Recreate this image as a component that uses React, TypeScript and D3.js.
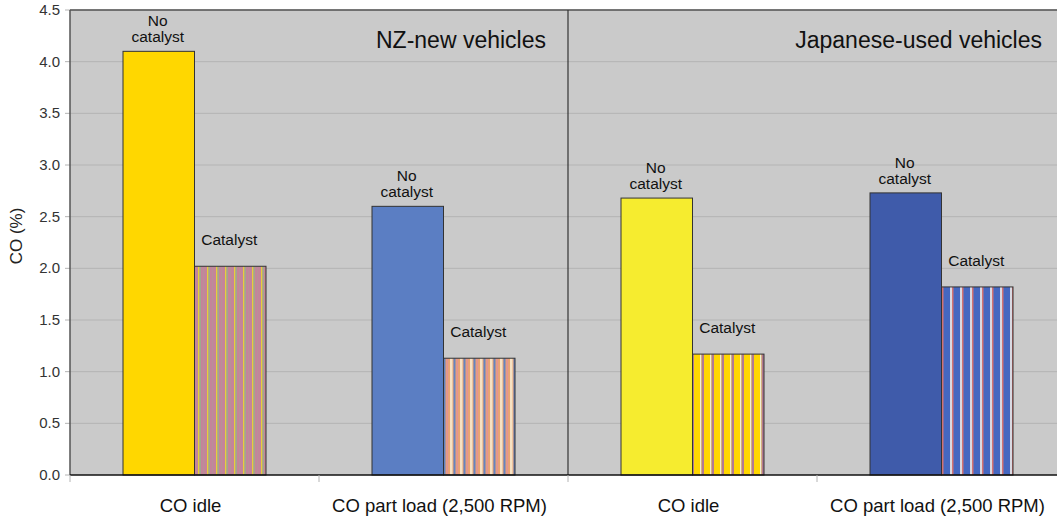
import React, { useEffect, useRef } from "react";
import * as d3 from "d3";

const groups = ["CO idle NZ", "CO part NZ", "CO idle JP", "CO part JP"];
const groupLabels = ["CO idle", "CO part load (2,500 RPM)", "CO idle", "CO part load (2,500 RPM)"];
const noCatalyst = [4.1, 2.6, 2.68, 2.73];
const withCatalyst = [2.02, 1.13, 1.17, 1.82];
const yTicks = [0, 0.5, 1, 1.5, 2, 2.5, 3, 3.5, 4, 4.5];
const panelTitles = ["NZ-new vehicles", "Japanese-used vehicles"];

const solidColors = ["#FFD700", "#5B7EC3", "#F6EC2F", "#3F5BAA"];
const font = "Liberation Sans, Arial, sans-serif";

export default function App() {
  const ref = useRef<SVGSVGElement>(null);

  useEffect(() => {
    const width = 1057, height = 521;
    const margin = { top: 10, left: 70, bottom: 46 };
    const plotRight = 1066;
    const svg = d3.select(ref.current);
    svg.selectAll("*").remove();

    const x = d3.scaleBand().domain(groups).range([margin.left, plotRight]).padding(0);
    const y = d3.scaleLinear().domain([0, 4.5]).range([height - margin.bottom, margin.top]);
    const barW = 71.5;

    const defs = svg.append("defs");
    const pats: { id: string; w: number; base: string; stripes: [number, number, string][] }[] = [
      { id: "p0", w: 9, base: "#C4849A", stripes: [[0, 1.5, "#E6CF3A"], [1.5, 1.5, "#9EA890"], [5, 1, "#B89098"]] },
      { id: "p1", w: 10, base: "#E9A374", stripes: [[0, 2.5, "#F6E2C4"], [3.5, 2, "#6484C2"], [6.5, 1.5, "#E39393"]] },
      { id: "p2", w: 10, base: "#FFD700", stripes: [[0, 1.5, "#F1EED2"], [1.5, 2.5, "#B27A92"]] },
      { id: "p3", w: 10, base: "#4567C0", stripes: [[0, 2, "#D9D9E2"], [2, 1.5, "#D27272"]] },
    ];
    pats.forEach((p) => {
      const pat = defs.append("pattern").attr("id", p.id).attr("patternUnits", "userSpaceOnUse")
        .attr("width", p.w).attr("height", 10);
      pat.append("rect").attr("width", p.w).attr("height", 10).attr("fill", p.base);
      p.stripes.forEach(([sx, sw, c]) => {
        pat.append("rect").attr("x", sx).attr("width", sw).attr("height", 10).attr("fill", c);
      });
    });

    svg.append("rect").attr("width", width).attr("height", height).attr("fill", "#fff");

    const g = svg.append("g");
    g.append("rect").attr("x", margin.left).attr("y", margin.top)
      .attr("width", plotRight - margin.left).attr("height", y(0) - margin.top).attr("fill", "#CACACA");

    g.selectAll(".grid").data(yTicks.slice(1)).enter().append("line")
      .attr("x1", margin.left).attr("x2", plotRight)
      .attr("y1", (d) => y(d)).attr("y2", (d) => y(d))
      .attr("stroke", "#B4B4B4").attr("stroke-width", 1);

    // y axis
    g.selectAll(".yt").data(yTicks).enter().append("line")
      .attr("x1", margin.left - 5).attr("x2", margin.left)
      .attr("y1", (d) => y(d)).attr("y2", (d) => y(d)).attr("stroke", "#B4B4B4");
    g.selectAll(".yl").data(yTicks).enter().append("text")
      .attr("x", margin.left - 10).attr("y", (d) => y(d) + 5)
      .attr("text-anchor", "end").attr("font-size", 15).attr("fill", "#333")
      .attr("font-family", font)
      .text((d) => d.toFixed(1));

    svg.append("text").attr("transform", `translate(22,236) rotate(-90)`)
      .attr("text-anchor", "middle").attr("font-size", 17).attr("fill", "#222")
      .attr("font-family", font).text("CO (%)");

    // bars
    groups.forEach((grp, i) => {
      const c = (x(grp) as number) + x.bandwidth() / 2;
      g.append("rect").attr("x", c - barW).attr("y", y(noCatalyst[i]))
        .attr("width", barW).attr("height", y(0) - y(noCatalyst[i]))
        .attr("fill", solidColors[i]).attr("stroke", "#333").attr("stroke-width", 1);
      g.append("rect").attr("x", c).attr("y", y(withCatalyst[i]))
        .attr("width", barW).attr("height", y(0) - y(withCatalyst[i]))
        .attr("fill", `url(#p${i})`).attr("stroke", "#333").attr("stroke-width", 1);

      const t1 = g.append("text").attr("text-anchor", "middle").attr("font-size", 15.5)
        .attr("fill", "#111").attr("font-family", font);
      t1.append("tspan").attr("x", c - barW / 2 - 1).attr("y", y(noCatalyst[i]) - 25).text("No");
      t1.append("tspan").attr("x", c - barW / 2 - 1).attr("y", y(noCatalyst[i]) - 9).text("catalyst");
      g.append("text").attr("x", c + barW / 2 - 1).attr("y", y(withCatalyst[i]) - 21)
        .attr("text-anchor", "middle").attr("font-size", 15.5).attr("fill", "#111")
        .attr("font-family", font).text("Catalyst");

      g.append("text").attr("x", c - 4).attr("y", 512).attr("text-anchor", "middle")
        .attr("font-size", 18.5).attr("fill", "#111")
        .attr("font-family", font).text(groupLabels[i]);
    });

    // borders
    const mid = x(groups[2]) as number;
    g.append("line").attr("x1", margin.left).attr("x2", plotRight).attr("y1", margin.top).attr("y2", margin.top)
      .attr("stroke", "#555").attr("stroke-width", 1.5);
    g.append("line").attr("x1", margin.left).attr("x2", margin.left).attr("y1", margin.top).attr("y2", y(0))
      .attr("stroke", "#555").attr("stroke-width", 1.5);
    g.append("line").attr("x1", mid).attr("x2", mid).attr("y1", margin.top).attr("y2", y(0))
      .attr("stroke", "#333").attr("stroke-width", 1.2);
    g.append("line").attr("x1", margin.left).attr("x2", plotRight).attr("y1", y(0)).attr("y2", y(0))
      .attr("stroke", "#111").attr("stroke-width", 1.5);
    g.selectAll(".xt").data(groups).enter().append("line")
      .attr("x1", (d) => x(d) as number).attr("x2", (d) => x(d) as number)
      .attr("y1", y(0)).attr("y2", y(0) + 7).attr("stroke", "#B4B4B4");

    // panel titles
    [mid - 22, width - 15].forEach((tx, i) => {
      g.append("text").attr("x", tx).attr("y", 48).attr("text-anchor", "end")
        .attr("font-size", 23).attr("fill", "#111")
        .attr("font-family", font).text(panelTitles[i]);
    });
  }, []);

  return <svg ref={ref} width={1057} height={521} style={{ position: "absolute", left: 0, top: 0 }} />;
}
